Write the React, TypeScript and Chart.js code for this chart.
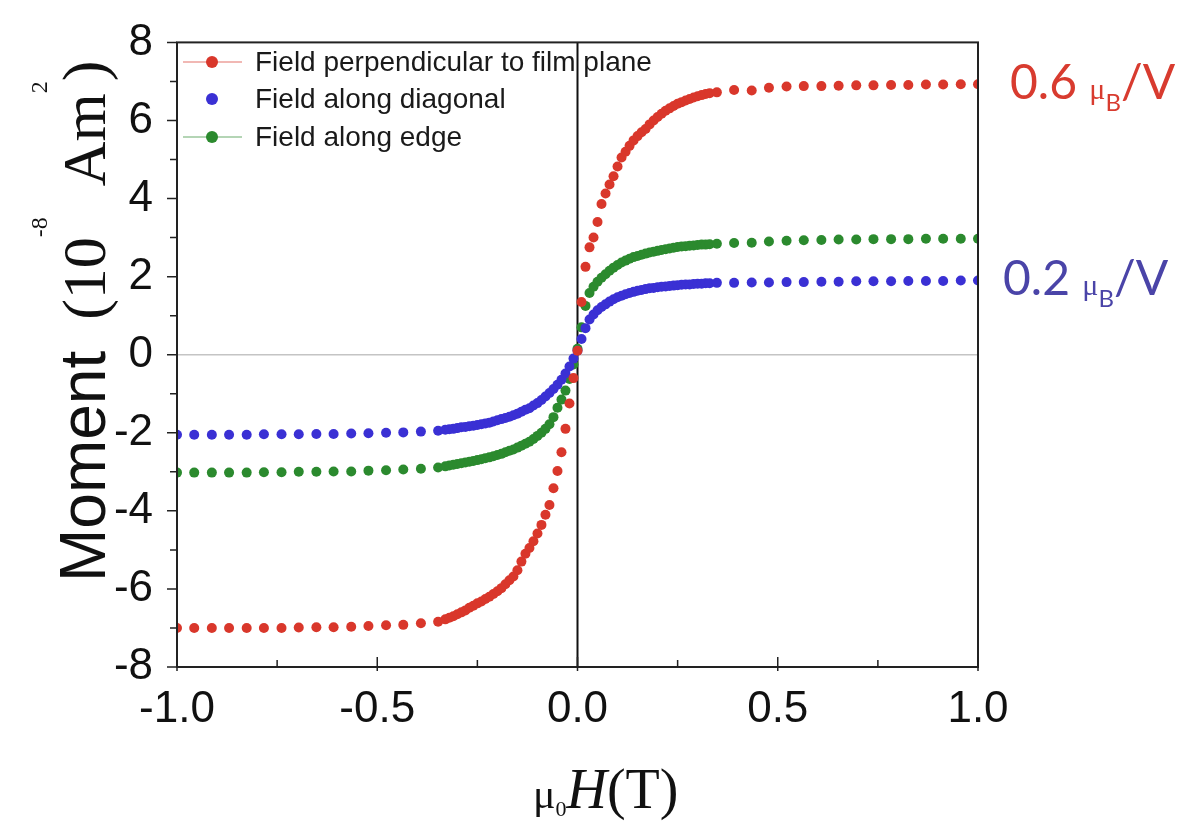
import React, { useEffect, useRef } from "react";
import { Chart, registerables } from "chart.js";

Chart.register(...registerables);

// Applied field mu0H (T)
const fieldX = [
  -1.0, -0.957, -0.913, -0.87, -0.826, -0.783, -0.739, -0.696, -0.652, -0.609, -0.565, -0.522, -0.478, -0.435, -0.391, -0.348,
  -0.33, -0.32, -0.31, -0.3, -0.29, -0.28, -0.27, -0.26, -0.25, -0.24, -0.23, -0.22, -0.21, -0.2, -0.19, -0.18, -0.17,
  -0.16, -0.15, -0.14, -0.13, -0.12, -0.11, -0.1, -0.09, -0.08, -0.07, -0.06, -0.05, -0.04, -0.03, -0.02, -0.01,
  0.0,
  0.01, 0.02, 0.03, 0.04, 0.05, 0.06, 0.07, 0.08, 0.09, 0.1, 0.11, 0.12, 0.13, 0.14, 0.15, 0.16,
  0.17, 0.18, 0.19, 0.2, 0.21, 0.22, 0.23, 0.24, 0.25, 0.26, 0.27, 0.28, 0.29, 0.3, 0.31, 0.32, 0.33,
  0.348, 0.391, 0.435, 0.478, 0.522, 0.565, 0.609, 0.652, 0.696, 0.739, 0.783, 0.826, 0.87, 0.913, 0.957, 1.0,
];

// Moment (10^-8 Am^2), field perpendicular to film plane
const perpendicular = [
  -7.0, -7.0, -7.0, -7.0, -7.0, -7.0, -7.0, -6.99, -6.98, -6.98, -6.97, -6.95, -6.93, -6.92, -6.88, -6.84,
  -6.78, -6.74, -6.7, -6.65, -6.6, -6.55, -6.48, -6.43, -6.37, -6.32, -6.26, -6.2, -6.13, -6.06, -5.98, -5.88, -5.78,
  -5.68, -5.52, -5.3, -5.1, -4.95, -4.78, -4.58, -4.36, -4.1, -3.85, -3.42, -2.98, -2.5, -1.9, -1.25, -0.6,
  0.1,
  1.35, 2.25, 2.75, 3.0, 3.4, 3.86, 4.13, 4.36, 4.57, 4.82, 5.05, 5.2, 5.35, 5.49, 5.6, 5.7,
  5.78, 5.9, 6.0, 6.09, 6.17, 6.25, 6.31, 6.37, 6.43, 6.47, 6.51, 6.55, 6.59, 6.62, 6.65, 6.68, 6.7,
  6.72, 6.78, 6.77, 6.84, 6.87, 6.88, 6.88, 6.89, 6.9, 6.9, 6.91, 6.91, 6.92, 6.92, 6.93, 6.93,
];

// Field along diagonal
const diagonal = [
  -2.05, -2.05, -2.05, -2.05, -2.05, -2.04, -2.04, -2.04, -2.03, -2.03, -2.02, -2.01, -2.0, -1.99, -1.97, -1.95,
  -1.92, -1.91, -1.9, -1.88, -1.86, -1.85, -1.83, -1.82, -1.8, -1.78, -1.76, -1.74, -1.71, -1.68, -1.65, -1.62, -1.59,
  -1.55, -1.51, -1.46, -1.41, -1.37, -1.3, -1.24, -1.16, -1.07, -0.98, -0.88, -0.77, -0.64, -0.48, -0.3, -0.1,
  0.1,
  0.4, 0.68, 0.9, 1.03, 1.14, 1.22, 1.29, 1.36, 1.42, 1.47, 1.51, 1.55, 1.58, 1.61, 1.64, 1.66,
  1.68, 1.7, 1.71, 1.73, 1.74, 1.75, 1.76, 1.77, 1.78, 1.79, 1.8, 1.8, 1.81, 1.82, 1.82, 1.83, 1.83,
  1.84, 1.84, 1.85, 1.85, 1.86, 1.86, 1.87, 1.87, 1.88, 1.88, 1.88, 1.89, 1.89, 1.89, 1.9, 1.9,
];

// Field along edge
const edge = [
  -3.02, -3.02, -3.02, -3.02, -3.02, -3.01, -3.01, -3.0, -3.0, -2.99, -2.99, -2.97, -2.96, -2.94, -2.92, -2.89,
  -2.86, -2.84, -2.82, -2.8, -2.78, -2.76, -2.74, -2.72, -2.7, -2.68, -2.65, -2.63, -2.6, -2.57, -2.54, -2.5, -2.46,
  -2.43, -2.38, -2.33, -2.28, -2.23, -2.16, -2.08, -2.0, -1.9, -1.78, -1.6, -1.36, -1.15, -0.92, -0.62, -0.25,
  0.15,
  0.7, 1.25, 1.58, 1.74, 1.87, 1.97, 2.06, 2.15, 2.23, 2.3, 2.36, 2.41, 2.46, 2.5, 2.53, 2.56,
  2.59, 2.62, 2.64, 2.66, 2.68, 2.7, 2.72, 2.74, 2.76, 2.77, 2.78, 2.79, 2.8, 2.81, 2.82, 2.82, 2.83,
  2.84, 2.86, 2.87, 2.9, 2.92, 2.93, 2.94, 2.95, 2.95, 2.96, 2.96, 2.96, 2.97, 2.97, 2.97, 2.97,
];

const seriesNames = ["Field perpendicular to film plane", "Field along diagonal", "Field along edge"];
const seriesColors = ["#d9372b", "#3a30d4", "#2b8a2e"];
const legendHasLine = [true, false, true];
const xMajorTicks = [-1.0, -0.5, 0.0, 0.5, 1.0];
const xMinorTicks = [-0.75, -0.25, 0.25, 0.75];
const yMajorTicks = [-8, -6, -4, -2, 0, 2, 4, 6, 8];
const yMinorTicks = [-7, -5, -3, -1, 1, 3, 5, 7];
const saturationTexts = ["0.6", "0.2"];
const saturationValues = [6.9, 1.9];
const saturationColors = ["#d83b2f", "#4a44a8"];

type Run = { text: string; font: string; dy?: number };

function drawRuns(ctx: CanvasRenderingContext2D, x: number, y: number, runs: Run[]) {
  let cx = x;
  for (const r of runs) {
    ctx.font = r.font;
    ctx.fillText(r.text, cx, y + (r.dy || 0));
    cx += ctx.measureText(r.text).width;
  }
}

const decorPlugin = {
  id: "decor",
  beforeDatasetsDraw(chart: any) {
    const ctx: CanvasRenderingContext2D = chart.ctx;
    const { left, right, top, bottom } = chart.chartArea;
    const xs = chart.scales.x;
    const ys = chart.scales.y;
    ctx.save();
    ctx.strokeStyle = "#c4c4c4";
    ctx.lineWidth = 1.5;
    const y0 = ys.getPixelForValue(0);
    ctx.beginPath();
    ctx.moveTo(left, y0);
    ctx.lineTo(right, y0);
    ctx.stroke();
    ctx.strokeStyle = "#111";
    ctx.lineWidth = 2;
    const x0 = xs.getPixelForValue(0);
    ctx.beginPath();
    ctx.moveTo(x0, top);
    ctx.lineTo(x0, bottom);
    ctx.stroke();
    ctx.restore();
  },
  afterDraw(chart: any) {
    const ctx: CanvasRenderingContext2D = chart.ctx;
    const { left, right, top, bottom } = chart.chartArea;
    const xs = chart.scales.x;
    const ys = chart.scales.y;
    ctx.save();
    // frame
    ctx.strokeStyle = "#222";
    ctx.lineWidth = 2;
    ctx.strokeRect(left, top, right - left, bottom - top);
    ctx.lineWidth = 1.5;
    ctx.beginPath();
    for (const v of yMajorTicks) {
      const p = ys.getPixelForValue(v);
      ctx.moveTo(left - 10, p);
      ctx.lineTo(left, p);
    }
    for (const v of yMinorTicks) {
      const p = ys.getPixelForValue(v);
      ctx.moveTo(left - 7, p);
      ctx.lineTo(left, p);
    }
    for (const v of xMajorTicks) {
      const p = xs.getPixelForValue(v);
      ctx.moveTo(p, bottom + 4);
      ctx.lineTo(p, bottom - 10);
    }
    for (const v of xMinorTicks) {
      const p = xs.getPixelForValue(v);
      ctx.moveTo(p, bottom);
      ctx.lineTo(p, bottom - 7);
    }
    ctx.stroke();

    // legend
    const legendX = 212;
    const legendY = [62, 99, 137];
    ctx.textBaseline = "middle";
    ctx.textAlign = "left";
    seriesNames.forEach((name, i) => {
      const ly = legendY[i];
      ctx.strokeStyle = seriesColors[i];
      ctx.fillStyle = seriesColors[i];
      if (legendHasLine[i]) {
        ctx.lineWidth = 1.2;
        ctx.globalAlpha = 0.7;
        ctx.beginPath();
        ctx.moveTo(legendX - 29, ly);
        ctx.lineTo(legendX + 30, ly);
        ctx.stroke();
        ctx.globalAlpha = 1;
      }
      ctx.beginPath();
      ctx.arc(legendX, ly, 6, 0, Math.PI * 2);
      ctx.fill();
      ctx.fillStyle = "#1a1a1a";
      ctx.font = "28px 'Liberation Sans', Arial, sans-serif";
      ctx.fillText(name, 255, ly + 1);
    });

    // saturation annotations
    ctx.textBaseline = "alphabetic";
    const annX = [1010, 1003];
    saturationTexts.forEach((t, i) => {
      const base = ys.getPixelForValue(saturationValues[i]) + 14;
      ctx.fillStyle = saturationColors[i];
      drawRuns(ctx, annX[i], base, [
        { text: t + " ", font: "48px Lato, 'Open Sans', sans-serif" },
        { text: "\u03bc", font: "30px 'Liberation Serif', serif" },
        { text: "B", font: "24px Lato, sans-serif", dy: 12 },
        { text: "/V", font: "48px Lato, 'Open Sans', sans-serif" },
      ]);
    });

    // x axis title
    ctx.fillStyle = "#111";
    drawRuns(ctx, 533, 808, [
      { text: "\u03bc", font: "42px 'Liberation Serif', serif" },
      { text: "0", font: "22px 'Liberation Serif', serif", dy: 8 },
      { text: "H", font: "italic 56px 'Liberation Serif', serif" },
      { text: "(T)", font: "56px 'Liberation Serif', serif" },
    ]);

    // y axis title (rotated)
    ctx.translate(105, 582);
    ctx.rotate(-Math.PI / 2);
    drawRuns(ctx, 0, 0, [
      { text: "Moment", font: "64px 'Liberation Sans', Arial, sans-serif" },
      { text: "  (10", font: "62px 'Liberation Serif', serif" },
      { text: "-8", font: "24px 'Liberation Serif', serif", dy: -58 },
      { text: "  Am", font: "62px 'Liberation Serif', serif" },
      { text: "2", font: "24px 'Liberation Serif', serif", dy: -58 },
      { text: ")", font: "62px 'Liberation Serif', serif" },
    ]);
    ctx.restore();
  },
};

export default function App() {
  const canvasRef = useRef<HTMLCanvasElement | null>(null);

  useEffect(() => {
    const canvas = canvasRef.current;
    if (!canvas) return;
    const series = [perpendicular, diagonal, edge];
    const chart = new Chart(canvas, {
      type: "scatter",
      data: {
        datasets: series.map((ys, i) => ({
          label: seriesNames[i],
          data: fieldX.map((x, k) => ({ x, y: ys[k] })),
          backgroundColor: seriesColors[i],
          borderColor: seriesColors[i],
          borderWidth: 0,
          pointRadius: 5,
          pointHoverRadius: 5,
          showLine: false,
        })),
      },
      options: {
        responsive: false,
        animation: false,
        devicePixelRatio: 1,
        layout: { padding: { left: 0, top: 37, right: 217, bottom: 0 } },
        plugins: {
          legend: { display: false },
          tooltip: { enabled: false },
        },
        scales: {
          x: {
            type: "linear",
            min: -1,
            max: 1,
            grid: { display: false },
            border: { display: false },
            ticks: {
              stepSize: 0.5,
              padding: 8,
              color: "#111",
              font: { family: "'Liberation Sans', Arial, sans-serif", size: 44 },
              callback: (v: any) => Number(v).toFixed(1),
            },
            afterFit: (s: any) => {
              s.height = 159;
            },
          },
          y: {
            type: "linear",
            min: -8,
            max: 8,
            grid: { display: false },
            border: { display: false },
            ticks: {
              stepSize: 2,
              padding: 16,
              color: "#111",
              font: { family: "'Liberation Sans', Arial, sans-serif", size: 44 },
            },
            afterFit: (s: any) => {
              s.width = 177;
            },
          },
        },
      },
      plugins: [decorPlugin],
    });
    return () => chart.destroy();
  }, []);

  return (
    <div style={{ position: "fixed", left: 0, top: 0, width: 1195, height: 826, background: "#fff" }}>
      <canvas ref={canvasRef} width={1195} height={826} style={{ width: 1195, height: 826, display: "block" }} />
    </div>
  );
}
